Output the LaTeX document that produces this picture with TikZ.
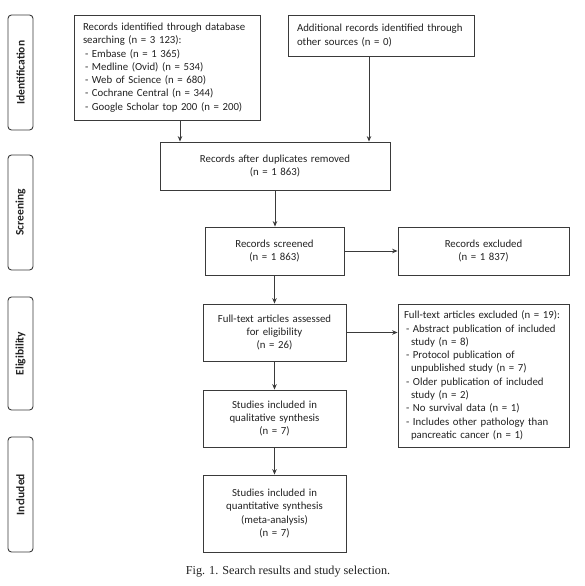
\documentclass[tikz,border=0pt]{standalone}
\usepackage{fontspec}
\setmainfont{Carlito}
\newfontfamily\capfont{Liberation Serif}
\usetikzlibrary{arrows.meta}
\definecolor{linec}{HTML}{3A3A3A}
\definecolor{txtc}{HTML}{222222}
\tikzset{
  box/.style={draw=linec, line width=0.8pt, inner sep=0pt, align=center, text=txtc,
    font=\fontsize{10.8}{13.3}\selectfont},
  leftbox/.style={box, align=left},
  phase/.style={draw=linec, line width=0.9pt, rounded corners=3.5pt, inner sep=0pt,
    minimum width=25pt},
  phasetext/.style={rotate=90, text=txtc, font=\bfseries\fontsize{11.5}{12}\selectfont},
  arr/.style={draw=linec, line width=0.9pt, -{Stealth[length=5.5pt,width=4.5pt]}}
}
\begin{document}
\begin{tikzpicture}[x=1pt,y=-1pt]
\useasboundingbox (0,0) rectangle (584,586);
\fill[white] (0,0) rectangle (584,586);
% phase labels
\node[phase, minimum height=115pt] (pid) at (20.5,72.5) {};
\node[phasetext] (tid) at (pid.center) {Identification};
\node[phase, minimum height=115pt] (pscr) at (20.5,212.5) {};
\node[phasetext] (tscr) at (pscr.center) {Screening};
\node[phase, minimum height=113pt] (pel) at (20.5,353.5) {};
\node[phasetext] (tel) at (pel.center) {Eligibility};
\node[phase, minimum height=115pt] (pin) at (20.5,494.5) {};
\node[phasetext] (tin) at (pin.center) {Included};
% boxes
\node[leftbox, minimum width=186pt, minimum height=105pt, text width=168pt] (b1) at (167,67.5)
 {Records identified through database\\searching (n = 3 123):\\
  \hspace*{2pt}- Embase (n = 1 365)\\
  \hspace*{2pt}- Medline (Ovid) (n = 534)\\
  \hspace*{2pt}- Web of Science (n = 680)\\
  \hspace*{2pt}- Cochrane Central (n = 344)\\
  \hspace*{2pt}- Google Scholar top 200 (n = 200)};
\node[leftbox, minimum width=186pt, minimum height=41pt, text width=168pt] (b2) at (381,35.5)
 {Additional records identified through\\other sources (n = 0)};
\node[box, minimum width=230pt, minimum height=48pt, text width=220pt] (b3) at (275,166)
 {Records after duplicates removed\\(n = 1 863)};
\node[box, minimum width=139pt, minimum height=48pt, text width=130pt] (b4) at (274.5,251)
 {Records screened\\(n = 1 863)};
\node[box, minimum width=171pt, minimum height=48pt, text width=160pt] (b5) at (483.5,251)
 {Records excluded\\(n = 1 837)};
\node[box, minimum width=143pt, minimum height=57pt, text width=134pt] (b6) at (274.5,332.5)
 {Full-text articles assessed\\for eligibility\\(n = 26)};
\node[leftbox, minimum width=171pt, minimum height=143pt, text width=159pt] (b7) at (483.5,375.5)
 {\mbox{Full-text articles excluded (n = 19):}\\
  \hspace*{2pt}- Abstract publication of included\\
  \hspace*{7pt}study (n = 8)\\
  \hspace*{2pt}- Protocol publication of\\
  \hspace*{7pt}unpublished study (n = 7)\\
  \hspace*{2pt}- Older publication of included\\
  \hspace*{7pt}study (n = 2)\\
  \hspace*{2pt}- No survival data (n = 1)\\
  \hspace*{2pt}- Includes other pathology than\\
  \hspace*{7pt}pancreatic cancer (n = 1)};
\node[box, minimum width=143pt, minimum height=57pt, text width=134pt] (b8) at (274.5,418.5)
 {Studies included in\\qualitative synthesis\\(n = 7)};
\node[box, minimum width=143pt, minimum height=77pt, text width=134pt] (b9) at (274.5,513.5)
 {Studies included in\\quantitative synthesis\\(meta-analysis)\\(n = 7)};
% caption
\node[text=txtc, font=\capfont\fontsize{12.2}{14}\selectfont] (cap) at (288,572)
 {Fig. 1. Search results and study selection.};
% arrows
\draw[arr] ([xshift=13pt]b1.south) -- ([xshift=13pt]b1.south |- b3.north);
\draw[arr] ([xshift=-12pt]b2.south) -- ([xshift=-12pt]b2.south |- b3.north);
\draw[arr] (b3.south) -- (b3.south |- b4.north);
\draw[arr] (b4.east) -- (b4.east -| b5.west);
\draw[arr] (b4.south) -- (b4.south |- b6.north);
\draw[arr] (b6.east) -- (b6.east -| b7.west);
\draw[arr] (b6.south) -- (b8.north);
\draw[arr] (b8.south) -- (b9.north);
\end{tikzpicture}
\end{document}
